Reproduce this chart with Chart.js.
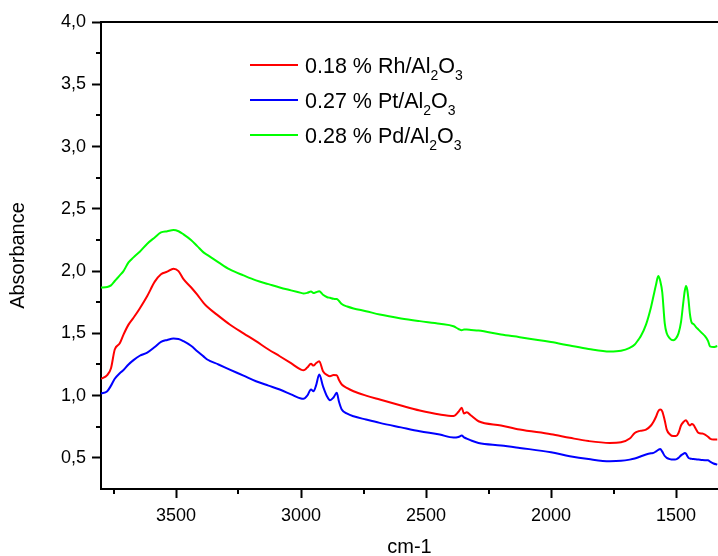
<!DOCTYPE html>
<html>
<head>
<meta charset="utf-8">
<script src="https://cdn.jsdelivr.net/npm/chart.js@4.4.1/dist/chart.umd.min.js"></script>
<style>
  html, body { margin: 0; padding: 0; background: #fff; overflow: hidden; }
  #wrap { width: 718px; height: 556px; }
</style>
</head>
<body>
<div id="wrap"><canvas id="ftirChart" width="718" height="556"></canvas></div>
<script>
// wavenumbers (cm-1), shared by the three spectra
var wavenumbers = [3800, 3775, 3760, 3745, 3725, 3710, 3690, 3670, 3645, 3615,
    3585, 3560, 3535, 3510, 3490, 3470, 3440, 3415, 3390, 3375,
    3330, 3285, 3230, 3180, 3130, 3085, 3040, 3000, 2990, 2975,
    2960, 2950, 2940, 2927, 2912, 2895, 2884, 2870, 2857, 2848,
    2837, 2815, 2790, 2740, 2685, 2600, 2525, 2445, 2390, 2370,
    2357, 2348, 2337, 2320, 2290, 2200, 2125, 2000, 1925, 1850,
    1765, 1720, 1685, 1665, 1650, 1640, 1620, 1600, 1590, 1580,
    1571, 1563, 1555, 1545, 1537, 1525, 1511, 1500, 1490, 1480,
    1471, 1465, 1460, 1455, 1450, 1444, 1437, 1430, 1420, 1410,
    1395, 1384, 1372, 1364, 1350, 1335];

var rhValues = [1.135, 1.165, 1.22, 1.37, 1.42, 1.49, 1.57, 1.625, 1.70, 1.80,
    1.915, 1.975, 1.995, 2.019, 2.00, 1.935, 1.87, 1.81, 1.745, 1.713,
    1.64, 1.571, 1.50, 1.437, 1.37, 1.316, 1.26, 1.209, 1.204, 1.225,
    1.255, 1.241, 1.26, 1.276, 1.196, 1.165, 1.156, 1.165, 1.164, 1.125,
    1.089, 1.06, 1.035, 1.00, 0.968, 0.92, 0.88, 0.848, 0.836, 0.87,
    0.902, 0.856, 0.866, 0.84, 0.794, 0.76, 0.727, 0.69, 0.661, 0.635,
    0.62, 0.625, 0.655, 0.70, 0.714, 0.718, 0.727, 0.76, 0.79, 0.83,
    0.875, 0.888, 0.874, 0.80, 0.727, 0.69, 0.675, 0.675, 0.70, 0.76,
    0.786, 0.798, 0.802, 0.79, 0.77, 0.76, 0.772, 0.765, 0.73, 0.70,
    0.695, 0.687, 0.67, 0.655, 0.647, 0.647];

var ptValues = [1.017, 1.035, 1.08, 1.135, 1.18, 1.205, 1.25, 1.285, 1.32, 1.345,
    1.39, 1.432, 1.447, 1.458, 1.455, 1.437, 1.40, 1.357, 1.315, 1.29,
    1.25, 1.209, 1.16, 1.115, 1.08, 1.049, 1.01, 0.976, 0.974, 1.00,
    1.049, 1.035, 1.08, 1.169, 1.075, 0.99, 0.963, 0.985, 1.022, 0.95,
    0.888, 0.855, 0.834, 0.808, 0.781, 0.745, 0.714, 0.687, 0.663, 0.668,
    0.679, 0.665, 0.655, 0.64, 0.62, 0.60, 0.58, 0.545, 0.513, 0.49,
    0.473, 0.476, 0.486, 0.495, 0.505, 0.513, 0.527, 0.537, 0.54, 0.552,
    0.565, 0.572, 0.55, 0.515, 0.50, 0.49, 0.486, 0.488, 0.50, 0.52,
    0.532, 0.54, 0.535, 0.515, 0.50, 0.495, 0.492, 0.49, 0.488, 0.486,
    0.482, 0.481, 0.48, 0.47, 0.455, 0.446];

var pdValues = [1.868, 1.872, 1.885, 1.92, 1.965, 2.00, 2.07, 2.11, 2.155, 2.22,
    2.27, 2.31, 2.32, 2.33, 2.32, 2.295, 2.25, 2.20, 2.15, 2.13,
    2.07, 2.013, 1.965, 1.925, 1.895, 1.868, 1.845, 1.825, 1.82, 1.825,
    1.835, 1.823, 1.83, 1.838, 1.81, 1.79, 1.785, 1.777, 1.775, 1.76,
    1.735, 1.715, 1.70, 1.678, 1.651, 1.62, 1.598, 1.577, 1.557, 1.535,
    1.525, 1.53, 1.53, 1.527, 1.523, 1.49, 1.469, 1.43, 1.402, 1.375,
    1.354, 1.36, 1.384, 1.41, 1.45, 1.48, 1.57, 1.71, 1.80, 1.89,
    1.96, 1.92, 1.83, 1.58, 1.50, 1.46, 1.445, 1.46, 1.50, 1.59,
    1.745, 1.84, 1.88, 1.85, 1.77, 1.65, 1.585, 1.575, 1.55, 1.53,
    1.50, 1.477, 1.44, 1.395, 1.39, 1.398];

// legend text, "_x" marks a subscript character
var seriesLabels = ['0.18 % Rh/Al_2O_3', '0.27 % Pt/Al_2O_3', '0.28 % Pd/Al_2O_3'];
var seriesColors = ['#ff0000', '#0000ff', '#00ff00'];
var xTicks = [3500, 3000, 2500, 2000, 1500];
var yTicks = [0.5, 1.0, 1.5, 2.0, 2.5, 3.0, 3.5, 4.0];
var xMinorTicks = [3750, 3250, 2750, 2250, 1750];
var yMinorTicks = [0.75, 1.25, 1.75, 2.25, 2.75, 3.25, 3.75];

var fontFamily = '"Liberation Sans", Arial, Helvetica, sans-serif';

function toPoints(values) {
    return wavenumbers.map(function (w, i) { return { x: w, y: values[i] }; });
}

// minor ticks, top frame line and the subscripted legend
var extrasPlugin = {
    id: 'extras',
    afterDraw: function (chart) {
        var ctx = chart.ctx;
        var area = chart.chartArea;
        var xs = chart.scales.x, ys = chart.scales.y;
        ctx.save();
        ctx.strokeStyle = '#000';
        ctx.lineWidth = 2;
        ctx.beginPath();
        ctx.moveTo(area.left - 1, area.top);
        ctx.lineTo(area.right, area.top);
        xMinorTicks.forEach(function (v) {
            var px = Math.round(xs.getPixelForValue(v));
            ctx.moveTo(px, area.bottom);
            ctx.lineTo(px, area.bottom + 5);
        });
        yMinorTicks.forEach(function (v) {
            var py = Math.round(ys.getPixelForValue(v));
            ctx.moveTo(area.left, py);
            ctx.lineTo(area.left - 5, py);
        });
        ctx.stroke();

        // legend
        var lx = 250, ly = 65, rowGap = 35;
        seriesLabels.forEach(function (label, i) {
            var y = ly + i * rowGap;
            ctx.strokeStyle = seriesColors[i];
            ctx.lineWidth = 2;
            ctx.beginPath();
            ctx.moveTo(lx, y);
            ctx.lineTo(lx + 48, y);
            ctx.stroke();
            ctx.fillStyle = '#000';
            ctx.textBaseline = 'alphabetic';
            ctx.textAlign = 'left';
            var tx = lx + 55, base = y + 8;
            var parts = label.split(/(_.)/);
            parts.forEach(function (p) {
                if (!p) return;
                if (p.charAt(0) === '_') {
                    ctx.font = '14px ' + fontFamily;
                    ctx.fillText(p.charAt(1), tx, base + 7);
                    tx += ctx.measureText(p.charAt(1)).width;
                } else {
                    ctx.font = '21.5px ' + fontFamily;
                    ctx.fillText(p, tx, base);
                    tx += ctx.measureText(p).width;
                }
            });
        });
        ctx.restore();
    }
};

document.addEventListener('DOMContentLoaded', function () {
    var ctx = document.getElementById('ftirChart').getContext('2d');
    var datasets = [rhValues, ptValues, pdValues].map(function (vals, i) {
        return {
            label: seriesLabels[i],
            data: toPoints(vals),
            borderColor: seriesColors[i],
            backgroundColor: seriesColors[i],
            borderWidth: 2,
            pointRadius: 0,
            cubicInterpolationMode: 'monotone',
            fill: false
        };
    });
    var axisGrid = {
        display: true,
        drawOnChartArea: false,
        drawTicks: true,
        tickLength: 9,
        tickWidth: 2,
        tickColor: '#000'
    };
    new Chart(ctx, {
        type: 'line',
        data: { datasets: datasets },
        options: {
            responsive: false,
            animation: false,
            layout: { padding: { top: 22, left: 0, right: 0, bottom: 0 } },
            plugins: {
                legend: { display: false },
                tooltip: { enabled: false }
            },
            scales: {
                x: {
                    type: 'linear',
                    reverse: true,
                    min: 1332,
                    max: 3800,
                    grid: axisGrid,
                    border: { display: true, width: 2, color: '#000' },
                    ticks: {
                        color: '#000',
                        padding: 7,
                        maxRotation: 0,
                        autoSkip: false,
                        font: { family: fontFamily, size: 18 },
                        callback: function (v) { return String(v); }
                    },
                    afterBuildTicks: function (scale) {
                        scale.ticks = xTicks.map(function (v) { return { value: v }; });
                    },
                    title: {
                        display: true,
                        text: 'cm-1',
                        color: '#000',
                        font: { family: fontFamily, size: 20, lineHeight: 1 },
                        padding: { top: 0, bottom: -1 }
                    },
                    afterFit: function (scale) { scale.height = 67; }
                },
                y: {
                    min: 0.25,
                    max: 4.0,
                    grid: axisGrid,
                    border: { display: true, width: 2, color: '#000' },
                    ticks: {
                        color: '#000',
                        padding: 6,
                        autoSkip: false,
                        font: { family: fontFamily, size: 18 },
                        callback: function (v) { return v.toFixed(1).replace('.', ','); }
                    },
                    afterBuildTicks: function (scale) {
                        scale.ticks = yTicks.map(function (v) { return { value: v }; });
                    },
                    title: {
                        display: true,
                        text: 'Absorbance',
                        color: '#000',
                        font: { family: fontFamily, size: 20, lineHeight: 1 },
                        padding: { top: 8, bottom: 0 }
                    },
                    afterFit: function (scale) { scale.width = 101; }
                }
            }
        },
        plugins: [extrasPlugin]
    });
});
</script>
</body>
</html>
